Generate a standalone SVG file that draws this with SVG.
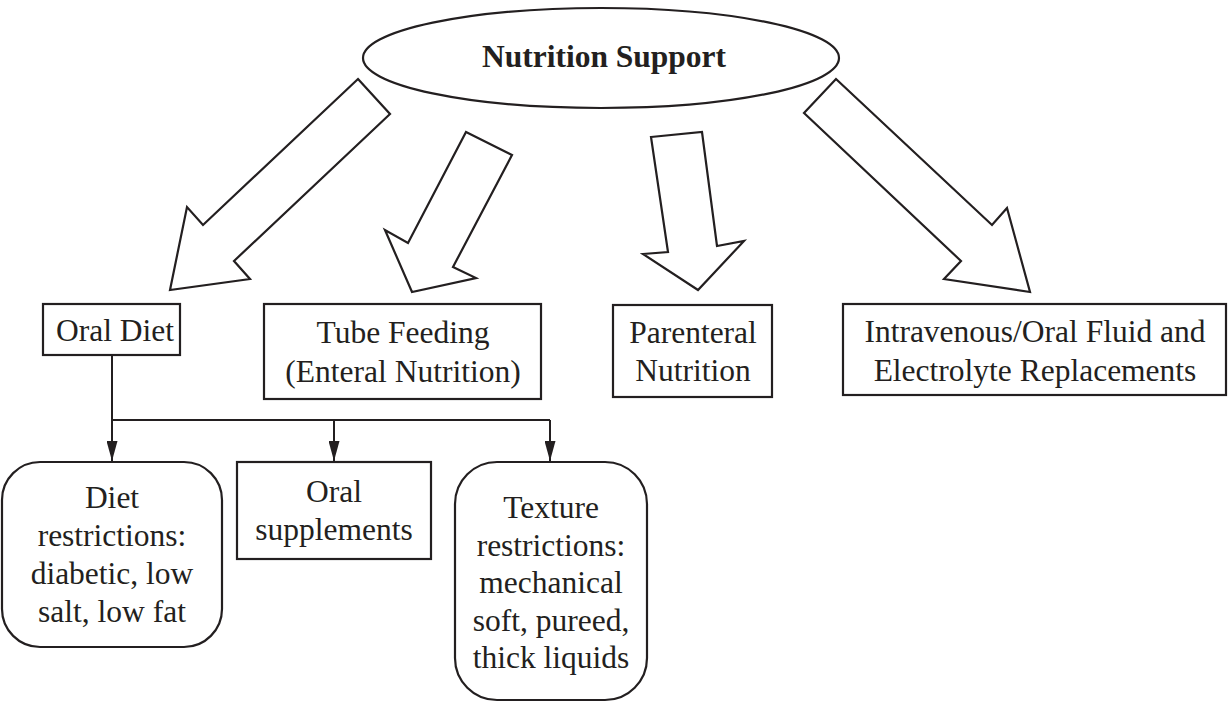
<svg xmlns="http://www.w3.org/2000/svg" width="1228" height="704" viewBox="0 0 1228 704">
<defs>
<style>
.s{fill:#fff;stroke:#231f20;stroke-width:2.2;stroke-linejoin:miter}
.t{font-family:"Liberation Serif","Times New Roman",serif;font-size:31.5px;fill:#231f20;text-anchor:middle}
.b{font-weight:bold}
.c{fill:none;stroke:#231f20;stroke-width:2}
</style>
<marker id="ah" viewBox="0 0 20 11" refX="20" refY="5.5" markerWidth="20" markerHeight="11" markerUnits="userSpaceOnUse" orient="auto">
<path d="M0,0 L20,5.5 L0,11 Z" fill="#231f20"/>
</marker>
</defs>
<rect width="1228" height="704" fill="#fff"/>
<g id="root">
<ellipse class="s" cx="601" cy="58" rx="238" ry="50"/>
<text class="t b" x="604" y="67">Nutrition Support</text>
</g>
<g id="big-arrows">
<polygon class="s" points="358,79 390,114 234,261 250,279 170,290 187,207 203,225"/>
<polygon class="s" points="466,132 512,155 453,267 476,278 412,292 385,230 408,243"/>
<polygon class="s" points="651,137 702,132 717,246 744,241 698,290 643,254 668,252"/>
<polygon class="s" points="804,113 836,79 992,225 1007,208 1030,292 944,279 961,261"/>
</g>
<g id="oral-diet">
<rect class="s" x="43" y="304" width="137" height="51"/>
<text class="t" x="115" y="341">Oral Diet</text>
</g>
<g id="tube-feeding">
<rect class="s" x="264" y="304" width="277" height="95"/>
<text class="t" x="403" y="343">Tube Feeding</text>
<text class="t" x="403" y="382">(Enteral Nutrition)</text>
</g>
<g id="parenteral">
<rect class="s" x="613" y="305" width="159" height="92"/>
<text class="t" x="693" y="343">Parenteral</text>
<text class="t" x="693" y="381">Nutrition</text>
</g>
<g id="iv-fluid">
<rect class="s" x="843" y="304" width="383" height="91"/>
<text class="t" x="1035" y="342">Intravenous/Oral Fluid and</text>
<text class="t" x="1035" y="381">Electrolyte Replacements</text>
</g>
<g id="connectors">
<path class="c" d="M112,355 V420 H550"/>
<line class="c" x1="112" y1="420" x2="112" y2="461" marker-end="url(#ah)"/>
<line class="c" x1="334" y1="420" x2="334" y2="461" marker-end="url(#ah)"/>
<line class="c" x1="550" y1="420" x2="550" y2="461" marker-end="url(#ah)"/>
</g>
<g id="diet-restrictions">
<rect class="s" x="2" y="462" width="220" height="185" rx="38" ry="38"/>
<text class="t" x="112" y="508">Diet</text>
<text class="t" x="112" y="546">restrictions:</text>
<text class="t" x="112" y="584">diabetic, low</text>
<text class="t" x="112" y="622">salt, low fat</text>
</g>
<g id="oral-supplements">
<rect class="s" x="237" y="462" width="194" height="97"/>
<text class="t" x="334" y="502">Oral</text>
<text class="t" x="334" y="540">supplements</text>
</g>
<g id="texture-restrictions">
<rect class="s" x="455" y="462" width="192" height="238" rx="42" ry="42"/>
<text class="t" x="551" y="518">Texture</text>
<text class="t" x="551" y="556">restrictions:</text>
<text class="t" x="551" y="593">mechanical</text>
<text class="t" x="551" y="631">soft, pureed,</text>
<text class="t" x="551" y="668">thick liquids</text>
</g>
</svg>
